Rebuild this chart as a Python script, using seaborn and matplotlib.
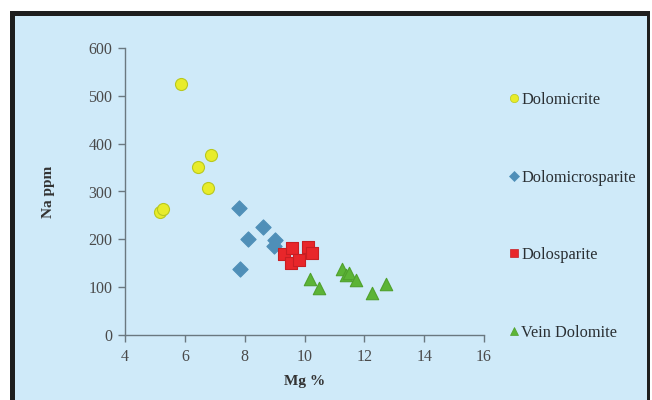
import matplotlib
matplotlib.use("Agg")
import matplotlib.pyplot as plt
from matplotlib.patches import Rectangle
from matplotlib.lines import Line2D
import seaborn as sns
import pandas as pd

# Mg (%) and Na (ppm) for each dolomite type
dolomicrite_mg = [5.87, 5.17, 5.26, 6.44, 6.87, 6.76]
dolomicrite_na = [525, 258, 264, 352, 376, 307]

dolomicrosparite_mg = [7.81, 8.62, 8.11, 9.0, 8.98, 7.83]
dolomicrosparite_na = [265, 226, 200, 199, 186, 139]

dolosparite_mg = [9.3, 9.58, 9.56, 9.83, 10.11, 10.26]
dolosparite_na = [170, 181, 150, 157, 183, 171]

vein_mg = [10.17, 10.5, 11.26, 11.39, 11.5, 11.72, 12.26, 12.72]
vein_na = [118, 99, 139, 125, 129, 115, 88, 107]

types = ["Dolomicrite", "Dolomicrosparite", "Dolosparite", "Vein Dolomite"]
x_ticks = [4, 6, 8, 10, 12, 14, 16]
y_ticks = [0, 100, 200, 300, 400, 500, 600]

frames = []
for name, mg, na in [
    (types[0], dolomicrite_mg, dolomicrite_na),
    (types[1], dolomicrosparite_mg, dolomicrosparite_na),
    (types[2], dolosparite_mg, dolosparite_na),
    (types[3], vein_mg, vein_na),
]:
    frames.append(pd.DataFrame({"Mg": mg, "Na": na, "Type": name}))
df = pd.concat(frames, ignore_index=True)

sns.set_style("white")
plt.rcParams["font.family"] = ["Liberation Serif", "DejaVu Serif"]

bg = "#cfeaf9"
fig = plt.figure(figsize=(6.52, 4.0), dpi=100)
fig.patch.set_facecolor("white")

# dark outer frame with the pale blue panel inside
fig.patches.append(Rectangle((10 / 652, -0.02), (640 / 652), 1 - 11 / 400 + 0.02,
                             transform=fig.transFigure, facecolor="#1e1e1e",
                             edgecolor="none", zorder=-10))
fig.patches.append(Rectangle((15 / 652, -0.02), (632 / 652), 1 - 16 / 400 + 0.02,
                             transform=fig.transFigure, facecolor=bg,
                             edgecolor="none", zorder=-9))

ax = fig.add_axes([125 / 652, 1 - 335 / 400, (484 - 125) / 652, (335 - 48) / 400])
ax.set_facecolor("none")
ax.set_zorder(2)

palette = {types[0]: "#e8ec2a", types[1]: "#4f8fb8", types[2]: "#e8262a", types[3]: "#5cb436"}
edges = {types[0]: "#b9c81e", types[1]: "#4f8fb8", types[2]: "#c81e22", types[3]: "#4fa02c"}
markers = {types[0]: "o", types[1]: "D", types[2]: "s", types[3]: "^"}
sizes = {types[0]: 75, types[1]: 60, types[2]: 75, types[3]: 80}

for t in types:
    sub = df[df["Type"] == t]
    sns.scatterplot(data=sub, x="Mg", y="Na", ax=ax, color=palette[t],
                    marker=markers[t], s=sizes[t], edgecolor=edges[t],
                    linewidth=0.8, legend=False, zorder=3)

ax.set_xlim(4, 16)
ax.set_ylim(0, 600)
ax.set_xticks(x_ticks)
ax.set_yticks(y_ticks)
ax.set_xticklabels([str(v) for v in x_ticks])
ax.set_yticklabels([str(v) for v in y_ticks])

for side in ["top", "right"]:
    ax.spines[side].set_visible(False)
for side in ["left", "bottom"]:
    ax.spines[side].set_color("#6a7880")
    ax.spines[side].set_linewidth(1.0)

ax.tick_params(axis="both", direction="out", length=5, width=1.0, bottom=True, left=True,
               color="#6a7880", labelsize=11.5, labelcolor="#4a4a4a", pad=4)
ax.tick_params(axis="x", pad=5)

ax.set_xlabel("Mg %", fontsize=11, fontweight="bold", color="#333333", labelpad=7)
ax.set_ylabel("Na ppm", fontsize=11, fontweight="bold", color="#333333", labelpad=24)

# legend entries spaced down the right side
handles = [Line2D([0], [0], linestyle="none", marker=markers[t], markersize=6 if t != types[1] else 5,
                  markerfacecolor=palette[t], markeredgecolor=edges[t], markeredgewidth=0.5)
           for t in types]
leg = fig.legend(handles, types, loc="upper left", bbox_to_anchor=(501 / 652, 1 - 84 / 400),
                 frameon=False, fontsize=11.8, handlelength=0.6, handletextpad=0.15,
                 labelspacing=3.75, borderpad=0)
leg.set_zorder(3)
for txt in leg.get_texts():
    txt.set_color("#2a2f33")

fig.savefig("out.png", dpi=100, facecolor=fig.get_facecolor())
